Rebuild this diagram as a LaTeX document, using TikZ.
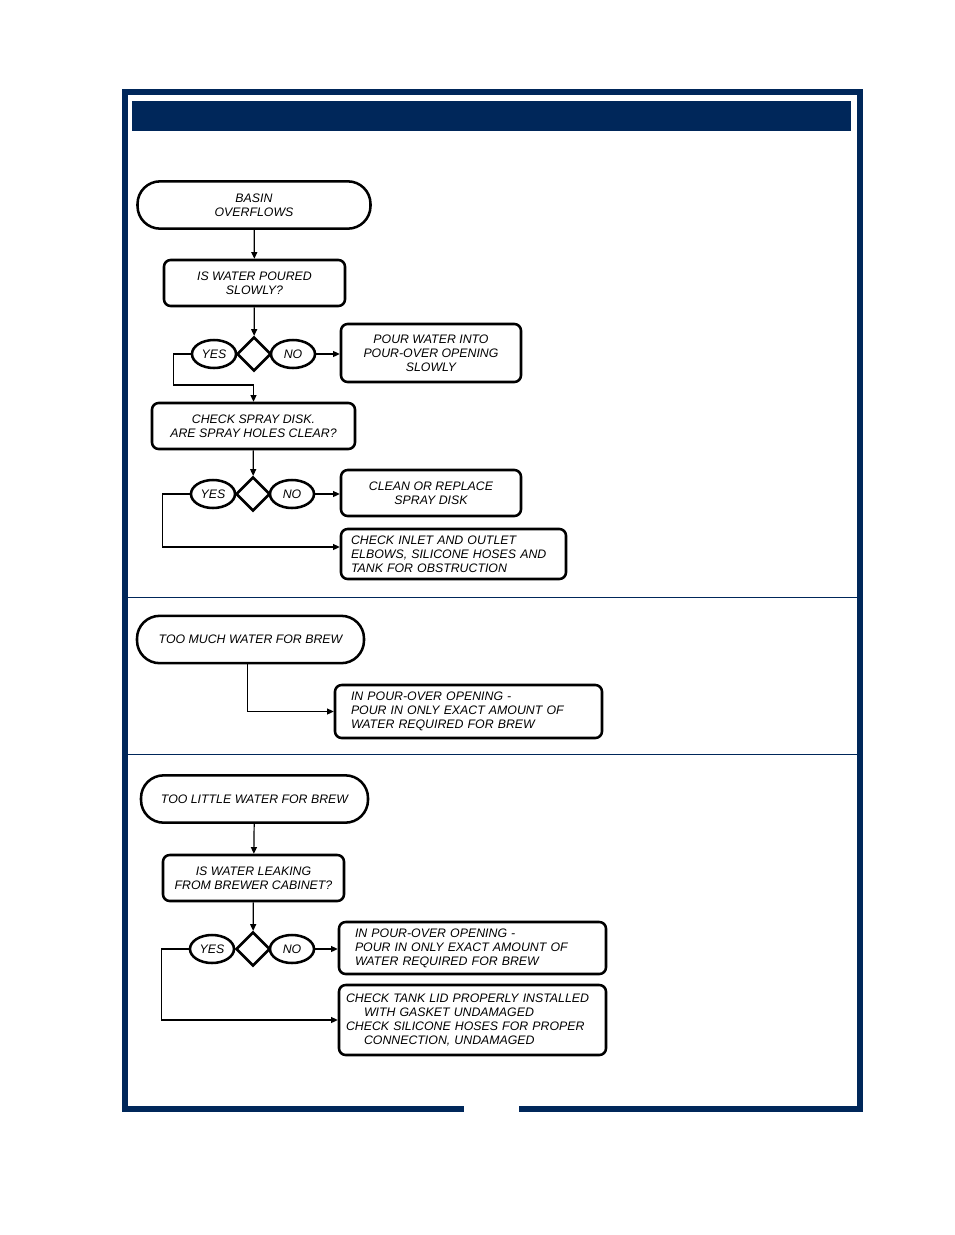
\documentclass[tikz,border=0pt]{standalone}
\usepackage{fontspec}
\setmainfont{Liberation Sans}
\usetikzlibrary{shapes.geometric,arrows.meta}
\definecolor{navy}{HTML}{00275A}

\begin{document}
\begin{tikzpicture}[
    x=0.75pt, y=-0.75pt,
    font=\itshape\fontsize{9.25}{10.5}\selectfont,
    pill/.style={rectangle, draw, line width=1.9pt, rounded corners=17pt,
                 minimum width=#1, minimum height=35.5pt, align=center, inner sep=0pt},
    box/.style={rectangle, draw, line width=1.9pt, rounded corners=5pt,
                minimum width=#1, align=center, inner sep=0pt},
    note/.style={rectangle, draw, line width=1.9pt, rounded corners=5pt,
                 align=left, inner ysep=0pt},
    dia/.style={diamond, draw, line width=1.9pt, minimum width=25.5pt,
                minimum height=25.5pt, inner sep=0pt},
    ans/.style={ellipse, draw, line width=1.9pt, minimum width=33pt,
                minimum height=21pt, inner sep=0pt},
    arr/.style={-{Triangle[length=5pt,width=4.5pt]}, line width=0.9pt}
]
\useasboundingbox (0,0) rectangle (954,1235);

% frame and header bar
\fill[navy] (122,89) rectangle (863,95);
\fill[navy] (122,89) rectangle (128,1112);
\fill[navy] (857,89) rectangle (863,1112);
\fill[navy] (122,1106) rectangle (464,1112);
\fill[navy] (519,1106) rectangle (863,1112);
\fill[navy] (132,101) rectangle (851,131);
\fill[navy] (128,596.5) rectangle (857,598);
\fill[navy] (128,753.5) rectangle (857,755);

% basin overflows
\node[pill=174.75pt] (basin) at (254,205) {BASIN\\OVERFLOWS};
\node[box=135.75pt, minimum height=34.5pt] (poured) at (254.5,283) {IS WATER POURED\\SLOWLY?};
\node[dia] (d1) at (254,354) {};
\node[ans] (yes1) at (214,354) {YES};
\node[ans] (no1) at (293,354) {NO};
\node[box=135pt, minimum height=43.5pt] (pourslow) at (431,353) {POUR WATER INTO\\POUR-OVER OPENING\\SLOWLY};
\node[box=152.25pt, minimum height=34.5pt] (spray) at (253.5,426) {CHECK SPRAY DISK.\\ARE SPRAY HOLES CLEAR?};
\node[dia] (d2) at (253,494) {};
\node[ans] (yes2) at (213,494) {YES};
\node[ans] (no2) at (292,494) {NO};
\node[box=135pt, minimum height=34.5pt] (clean) at (431,493) {CLEAN OR REPLACE\\SPRAY DISK};
\node[note, inner xsep=7.5pt, text width=153.75pt, minimum height=37.5pt] (inlet) at (453.5,554)
    {CHECK INLET AND OUTLET\\ELBOWS, SILICONE HOSES AND\\TANK FOR OBSTRUCTION};

\draw[arr] (basin) -- (poured);
\draw[arr] (poured) -- (d1);
\draw[arr] (no1) -- (no1 -| pourslow.west);
\draw[arr] (yes1.west) -- ++(-17,0) -- ++(0,31) -| (spray.north);
\draw[arr] (spray) -- (d2);
\draw[arr] (no2) -- (no2 -| clean.west);
\draw[arr] (yes2.west) -- ++(-27,0) |- ([yshift=5.25pt]inlet.west);

% too much water
\node[pill=170.25pt] (toomuch) at (250.5,639.5) {TOO MUCH WATER FOR BREW};
\node[note, inner xsep=12pt, text width=176.25pt, minimum height=39.75pt] (exact1) at (468.5,711.5)
    {IN POUR-OVER OPENING -\\POUR IN ONLY EXACT AMOUNT OF\\WATER REQUIRED FOR BREW};

\draw[arr] ([xshift=-2pt]toomuch.south) |- (exact1.west);

% too little water
\node[pill=170.25pt] (toolittle) at (254.5,799) {TOO LITTLE WATER FOR BREW};
\node[box=135.75pt, minimum height=34.5pt] (leaking) at (253.5,878) {IS WATER LEAKING\\FROM BREWER CABINET?};
\node[dia] (d3) at (253,949) {};
\node[ans] (yes3) at (212,949) {YES};
\node[ans] (no3) at (292,949) {NO};
\node[note, inner xsep=12pt, text width=176.25pt, minimum height=39pt] (exact2) at (472.5,948)
    {IN POUR-OVER OPENING -\\POUR IN ONLY EXACT AMOUNT OF\\WATER REQUIRED FOR BREW};
\node[note, inner xsep=5.25pt, text width=189.75pt, minimum height=52.5pt] (tanklid) at (472.5,1020)
    {CHECK TANK LID PROPERLY INSTALLED\\\hspace*{13.5pt}WITH GASKET UNDAMAGED\\
     CHECK SILICONE HOSES FOR PROPER\\\hspace*{13.5pt}CONNECTION, UNDAMAGED};

\draw[arr] (toolittle) -- (leaking);
\draw[arr] (leaking) -- (d3);
\draw[arr] (no3) -- (no3 -| exact2.west);
\draw[arr] (yes3.west) -- ++(-27,0) |- (tanklid.west);
\end{tikzpicture}
\end{document}
